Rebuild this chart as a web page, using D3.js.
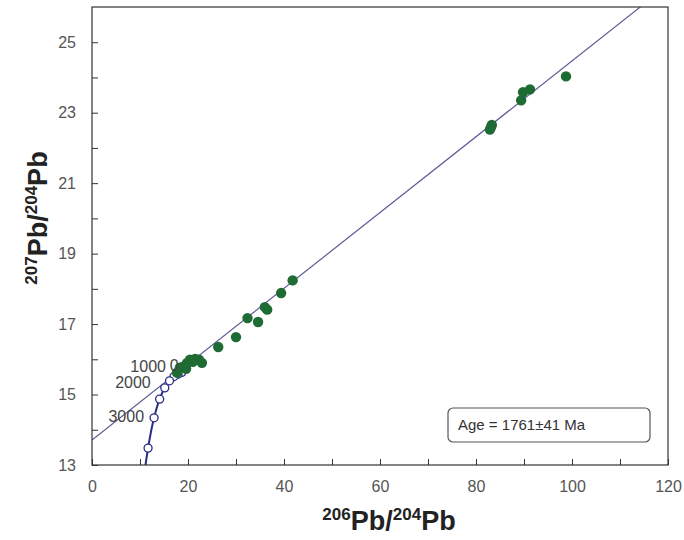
<!DOCTYPE html>
<html>
<head>
<meta charset="utf-8">
<script src="https://cdn.jsdelivr.net/npm/d3@7"></script>
<style>
  html, body { margin: 0; padding: 0; background: #fff; }
  svg { display: block; font-family: Arial, "Liberation Sans", Helvetica, sans-serif; }
</style>
</head>
<body>
<svg id="chart" width="684" height="540"></svg>
<script>
// Sample Pb-Pb isotope ratios
const pb206 = [98.75, 91.25, 89.8, 89.4, 83.3, 83.1, 82.9,
  41.8, 39.4, 36.0, 36.5, 32.4, 34.6, 30.0, 26.3,
  20.4, 21.5, 22.3, 22.9, 19.8, 19.0, 18.3, 17.7, 19.6, 21.0];
const pb207 = [24.03, 23.66, 23.58, 23.35, 22.65, 22.58, 22.52,
  18.24, 17.88, 17.48, 17.41, 17.17, 17.06, 16.63, 16.35,
  15.99, 16.01, 15.99, 15.90, 15.90, 15.79, 15.76, 15.62, 15.73, 15.93];

// Isochron: intercept and slope
const isoIntercept = 13.71;
const isoSlope = 0.1076;

// Stacey-Kramers Pb growth curve (age in Ma)
const growthAge = [0, 500, 1000, 1500, 2000, 2500, 3000, 3500, 3700];
const growth206 = [18.70, 17.92, 17.07, 16.15, 15.16, 14.09, 12.93, 11.68, 11.15];
const growth207 = [15.63, 15.58, 15.51, 15.39, 15.19, 14.87, 14.34, 13.48, 13.00];
const growthMarked = [0, 500, 1000, 1500, 2000, 2500, 3000, 3500];
const growthLabels = [
  { age: 0, text: "0" },
  { age: 1000, text: "1000" },
  { age: 2000, text: "2000" },
  { age: 3000, text: "3000" }
];

const xTicks = [0, 20, 40, 60, 80, 100, 120];
const xMinor = [10, 30, 50, 70, 90, 110];
const yTicks = [13, 15, 17, 19, 21, 23, 25];
const yMinor = [14, 16, 18, 20, 22, 24];
const ageText = "Age = 1761\u00B141 Ma";

const svg = d3.select("#chart");
const L = 92, R = 668, T = 7, B = 465;
const x = d3.scaleLinear().domain([0, 120]).range([L, R]);
const y = d3.scaleLinear().domain([13, 26]).range([B, T]);

const clipId = "plotclip";
svg.append("defs").append("clipPath").attr("id", clipId)
  .append("rect").attr("x", L).attr("y", T).attr("width", R - L).attr("height", B - T);

// Axes with inward ticks
const xAxis = svg.append("g").attr("transform", `translate(0,${B})`)
  .call(d3.axisBottom(x).tickValues(xTicks).tickSizeInner(-6).tickSizeOuter(0).tickPadding(16));
const xAxisMinor = svg.append("g").attr("transform", `translate(0,${B})`)
  .call(d3.axisBottom(x).tickValues(xMinor).tickSizeInner(-6).tickSizeOuter(0).tickFormat(""));
const yAxis = svg.append("g").attr("transform", `translate(${L},0)`)
  .call(d3.axisLeft(y).tickValues(yTicks).tickSizeInner(-6).tickSizeOuter(0).tickPadding(16));
const yAxisMinor = svg.append("g").attr("transform", `translate(${L},0)`)
  .call(d3.axisLeft(y).tickValues(yMinor).tickSizeInner(-6).tickSizeOuter(0).tickFormat(""));

[xAxis, xAxisMinor, yAxis, yAxisMinor].forEach(g => {
  g.select(".domain").remove();
  g.selectAll(".tick line").attr("stroke", "#333").attr("stroke-width", 1);
  g.selectAll(".tick text").attr("fill", "#555").style("font-size", "16px");
});

const plot = svg.append("g").attr("clip-path", `url(#${clipId})`);

// Isochron line
const xs = x.domain();
plot.append("line")
  .attr("x1", x(xs[0])).attr("y1", y(isoIntercept + isoSlope * xs[0]))
  .attr("x2", x(xs[1])).attr("y2", y(isoIntercept + isoSlope * xs[1]))
  .attr("stroke", "#5f5a98").attr("stroke-width", 1.2);

// Growth curve
const growth = growthAge.map((a, i) => ({ age: a, x: growth206[i], y: growth207[i] }));
plot.append("path")
  .datum(growth)
  .attr("fill", "none")
  .attr("stroke", "#2b2b86")
  .attr("stroke-width", 2)
  .attr("d", d3.line().x(d => x(d.x)).y(d => y(d.y)).curve(d3.curveMonotoneY));

// Growth curve age markers
plot.selectAll("circle.age")
  .data(growth.filter(d => growthMarked.includes(d.age)))
  .enter().append("circle")
  .attr("class", "age")
  .attr("cx", d => x(d.x)).attr("cy", d => y(d.y)).attr("r", 4)
  .attr("fill", "#fff").attr("stroke", "#2b2b86").attr("stroke-width", 1.3);

// Sample points
const pts = pb206.map((v, i) => ({ x: v, y: pb207[i] }));
plot.selectAll("circle.sample")
  .data(pts).enter().append("circle")
  .attr("class", "sample")
  .attr("cx", d => x(d.x)).attr("cy", d => y(d.y)).attr("r", 5.2)
  .attr("fill", "#1f6b34");

// Age labels along the growth curve
const labelOffset = { 0: [-3, -6], 1000: [-8, -9], 2000: [-14, -4], 3000: [-10, 0] };
svg.selectAll("text.agelab")
  .data(growthLabels).enter().append("text")
  .attr("class", "agelab")
  .attr("x", d => { const g = growth.find(p => p.age === d.age); return x(g.x) + labelOffset[d.age][0]; })
  .attr("y", d => { const g = growth.find(p => p.age === d.age); return y(g.y) + labelOffset[d.age][1]; })
  .attr("text-anchor", "end")
  .attr("dominant-baseline", "middle")
  .attr("fill", "#444")
  .style("font-size", "16px")
  .text(d => d.text);

// Frame
svg.append("rect").attr("x", L).attr("y", T).attr("width", R - L).attr("height", B - T)
  .attr("fill", "none").attr("stroke", "#333").attr("stroke-width", 1.2);

// Age box
svg.append("rect").attr("x", 448).attr("y", 408).attr("width", 202).attr("height", 34)
  .attr("rx", 5).attr("ry", 5)
  .attr("fill", "#fff").attr("stroke", "#555").attr("stroke-width", 1.2);
svg.append("text").attr("x", 458).attr("y", 426)
  .attr("dominant-baseline", "middle")
  .attr("fill", "#333").style("font-size", "15px")
  .text(ageText);

// Axis titles
const xt = svg.append("text")
  .attr("x", (L + R) / 2 + 9).attr("y", 530)
  .attr("text-anchor", "middle")
  .attr("fill", "#222").style("font-weight", "bold").style("font-size", "27px");
xt.append("tspan").attr("dy", "-10").style("font-size", "17px").text("206");
xt.append("tspan").attr("dy", "10").text("Pb/");
xt.append("tspan").attr("dy", "-10").style("font-size", "17px").text("204");
xt.append("tspan").attr("dy", "10").text("Pb");

const yt = svg.append("text")
  .attr("transform", "translate(47,218) rotate(-90)")
  .attr("text-anchor", "middle")
  .attr("fill", "#222").style("font-weight", "bold").style("font-size", "27px");
yt.append("tspan").attr("dy", "-10").style("font-size", "17px").text("207");
yt.append("tspan").attr("dy", "10").text("Pb/");
yt.append("tspan").attr("dy", "-10").style("font-size", "17px").text("204");
yt.append("tspan").attr("dy", "10").text("Pb");
</script>
</body>
</html>
